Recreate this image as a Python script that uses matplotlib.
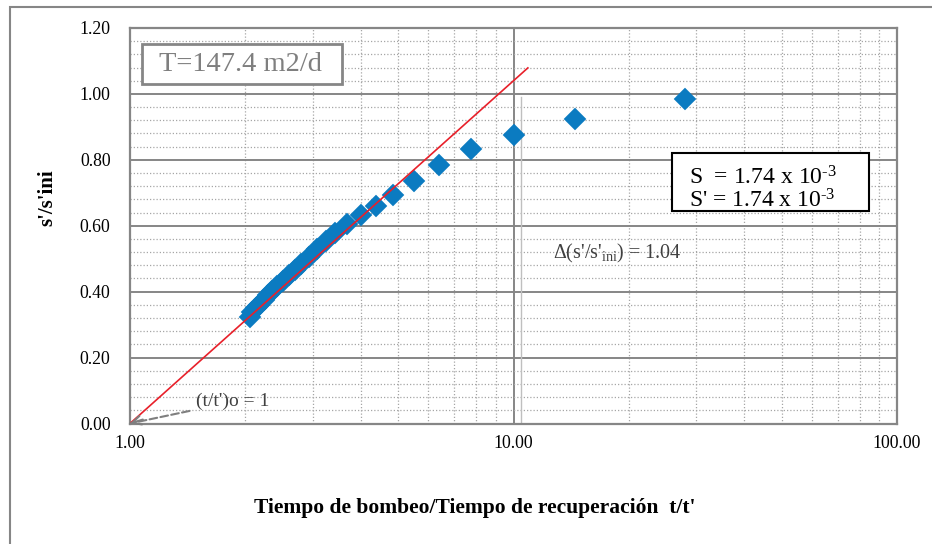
import matplotlib
matplotlib.use("Agg")
import matplotlib.pyplot as plt
import matplotlib.ticker as mticker
from matplotlib.patches import Rectangle
import numpy as np

plt.rcParams['font.family'] = ['Liberation Serif', 'DejaVu Serif']
plt.rcParams['mathtext.fontset'] = 'custom'
plt.rcParams['mathtext.rm'] = 'Liberation Serif'
plt.rcParams['mathtext.it'] = 'Liberation Serif:italic'

# t/t' values and s'/s'ini readings
tt = [28.0, 14.5, 10.0, 7.75, 6.4, 5.5, 4.86, 4.38, 4.0, 3.68, 3.42, 3.25, 3.08,
      2.93, 2.80, 2.69, 2.59, 2.50, 2.42, 2.35, 2.29, 2.23, 2.17, 2.13, 2.08, 2.05]
ss = [0.985, 0.924, 0.875, 0.833, 0.784, 0.737, 0.693, 0.660, 0.633, 0.605, 0.578,
      0.553, 0.528, 0.505, 0.485, 0.465, 0.450, 0.433, 0.418, 0.403, 0.390, 0.375,
      0.360, 0.350, 0.337, 0.322]

# fitted straight line (semi-log), passes through (t/t')o = 1
fit_x = [1.0, 10.9]
delta = 1.04
fit_y = [0.0, delta * np.log10(10.9)]

x_ticks = [1, 10, 100]
x_ticklabels = ['1.00', '10.00', '100.00']
y_ticks = [0.0, 0.2, 0.4, 0.6, 0.8, 1.0, 1.2]

grid_col = '#868686'
blue = '#0B7BC1'

fig = plt.figure(figsize=(9.32, 5.44), dpi=100)
ax = fig.add_axes([130 / 932, 1 - 423.5 / 544, 767 / 932, 395.5 / 544])

ax.set_xscale('log')
ax.set_xlim(1, 100)
ax.set_ylim(0, 1.2)

ax.set_xticks(x_ticks)
ax.set_xticklabels(x_ticklabels)
ax.xaxis.set_minor_locator(mticker.LogLocator(base=10, subs=np.arange(2, 10)))
ax.xaxis.set_minor_formatter(mticker.NullFormatter())
ax.set_yticks(y_ticks)
ax.yaxis.set_major_formatter(mticker.FormatStrFormatter('%.2f'))
ax.yaxis.set_minor_locator(mticker.MultipleLocator(0.04))

ax.grid(True, which='major', color=grid_col, lw=1.4, ls='-')
ax.grid(True, which='minor', color='#A6A6A6', lw=0.9, ls=(0, (1.0, 1.6)))
ax.set_axisbelow(True)
ax.tick_params(which='both', length=0, labelsize=12.8, colors='black')
ax.tick_params(axis='x', pad=8)
ax.tick_params(axis='y', pad=14)
for sp in ax.spines.values():
    sp.set_color(grid_col)
    sp.set_linewidth(1.6)

# delta marker line
ax.plot([10.45, 10.45], [0, 0.99], color='#BFBFBF', lw=1.0, zorder=2)

ax.plot(tt, ss, ls='none', marker='D', ms=11.5, color=blue,
        mec=blue, mew=0.3, zorder=3)
ax.plot(fit_x, fit_y, color='#E8202A', lw=1.2, zorder=4)

# T box
ax.add_patch(Rectangle((0.0156, 0.8584), 0.2608, 0.1012, transform=ax.transAxes,
                       fc='white', ec=grid_col, lw=2, zorder=5))
ax.text(0.0378, 0.907, 'T=147.4 m2/d', transform=ax.transAxes, fontsize=20.5,
        color='#7F7F7F', va='center', ha='left', zorder=6)

# S box
ax.add_patch(Rectangle((0.7067, 0.5373), 0.2568, 0.1467, transform=ax.transAxes,
                       fc='white', ec='black', lw=1.5, zorder=5))
ax.text(0.7288, 0.622, "S  = 1.74 x 10$^{\\text{-3}}$", transform=ax.transAxes,
        fontsize=17, color='black', va='center', ha='left', zorder=6)
ax.text(0.7288, 0.562, "S' = 1.74 x 10$^{\\text{-3}}$", transform=ax.transAxes,
        fontsize=17, color='black', va='center', ha='left', zorder=6)

ax.text(12.7, 0.517, "$\\Delta$(s'/s'$_{\\rm ini}$) = 1.04", fontsize=14.5,
        color='#404040', va='center', ha='left')

# (t/t')o label with dashed leader and open arrow head at the origin
ax.annotate("(t/t')o = 1", xy=(1.0, 0.0), xytext=(1.49, 0.066),
            fontsize=14, color='#404040', va='center', ha='left',
            arrowprops=dict(arrowstyle='-', color='#7F7F7F', lw=1.5,
                            ls='--', shrinkA=3, shrinkB=0), zorder=6)
ax.annotate("", xy=(1.0, 0.0), xytext=(1.08, 0.012),
            arrowprops=dict(arrowstyle='->', color='#7F7F7F', lw=1.5,
                            shrinkA=0, shrinkB=0, mutation_scale=16),
            annotation_clip=False, zorder=6)

fig.text(47 / 932, 1 - 198 / 544, "s'/s'ini", rotation=90, fontsize=15,
         fontweight='bold', ha='center', va='center')
fig.text(475 / 932, 1 - 508 / 544,
         "Tiempo de bombeo/Tiempo de recuperación  t/t'", fontsize=15.5,
         fontweight='bold', ha='center', va='center')

# outer chart border
fig.patches.append(Rectangle((10 / 932, -0.1), 1.2, 1 - 7 / 544 + 0.1,
                             transform=fig.transFigure, fill=False,
                             ec=grid_col, lw=1.5))

fig.savefig('out.png', dpi=100)
